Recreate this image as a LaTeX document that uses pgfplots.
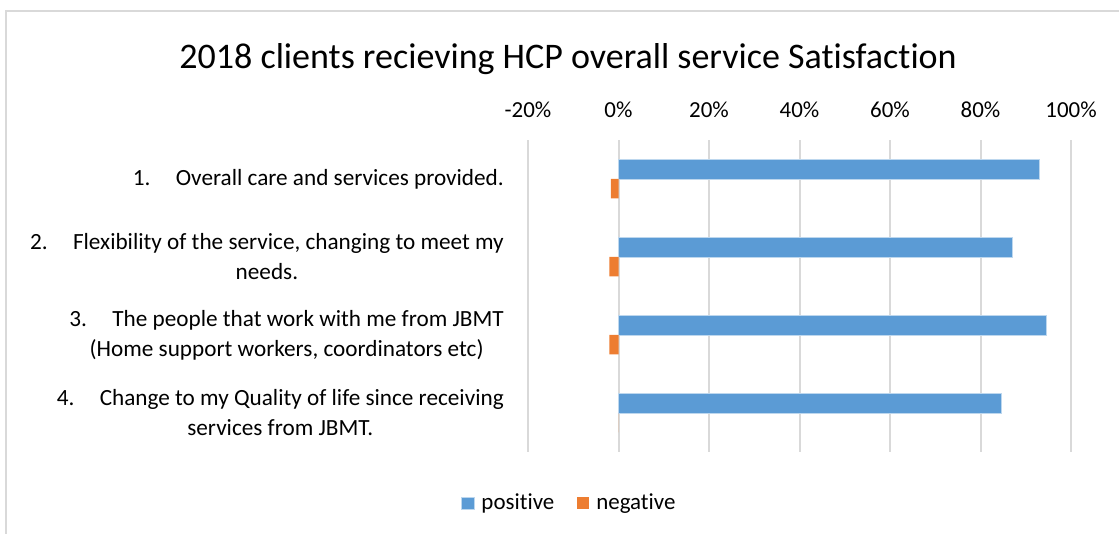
\documentclass[border=0pt]{standalone}
\usepackage{pgfplots}
\pgfplotsset{compat=1.18}
\usepackage{fontspec}
\setmainfont{Carlito}[Ligatures={NoCommon}]
\definecolor{posc}{HTML}{5B9BD5}
\definecolor{negc}{HTML}{ED7D31}
\definecolor{gridc}{HTML}{D9D9D9}
\begin{document}
\begin{tikzpicture}[x=0.75pt,y=0.75pt]
\useasboundingbox (0,0) rectangle (1119,534);
\draw[gridc, line width=1.5pt] (5.5,0) -- (5.5,522.5) -- (1119,522.5);
\node[font=\fontsize{27}{32}\selectfont, anchor=base] at (568,465) {2018 clients recieving HCP overall service Satisfaction};
\begin{axis}[
  at={(396pt,61.5pt)}, anchor=south west,
  scale only axis, width=407.25pt, height=234pt,
  xmin=-0.2, xmax=1.0, ymin=0.5, ymax=4.5,
  axis line style={draw=none},
  major tick length=0pt,
  xtick={-0.2,0,0.2,0.4,0.6,0.8,1.0},
  xticklabels={-20\%,0\%,20\%,40\%,60\%,80\%,100\%},
  xticklabel pos=upper,
  xmajorgrids, grid style={gridc, line width=1.5pt},
  xticklabel style={font=\fontsize{17.2}{20}\selectfont, anchor=base, yshift=17pt},
  ytick={1,2,3,4},
  yticklabels={
    {4.\hspace{19pt}Change to my Quality of life since receiving\\services from JBMT.},
    {3.\hspace{19pt}The people that work with me from JBMT\\(Home support workers, coordinators etc)},
    {2.\hspace{19pt}Flexibility of the service, changing to meet my\\needs.},
    {1.\hspace{19pt}Overall care and services provided.}},
  yticklabel style={font=\fontsize{17.4}{22.5}\selectfont, align=center, anchor=east, inner sep=0pt, xshift=-18pt},
  xbar, bar width=14.6pt,
  legend columns=2,
  legend style={at={(0.077,-0.163)}, anchor=center, draw=none, fill=none,
    font=\fontsize{17.2}{20}\selectfont, column sep=3.5pt,
    /tikz/every even column/.append style={column sep=15pt}},
  legend image code/.code={\fill[#1] (0pt,-4.5pt) rectangle (9pt,4.5pt);},
]
\addplot[fill=posc, draw=white!60!posc, line width=0.5pt, bar shift=7.3pt] coordinates {(0.929,4) (0.871,3) (0.945,2) (0.846,1)};
\addplot[fill=negc, draw=none, bar shift=-7.3pt] coordinates {(-0.017,4) (-0.02,3) (-0.02,2) (0,1)};
\legend{positive,negative}
\end{axis}
\end{tikzpicture}
\end{document}
